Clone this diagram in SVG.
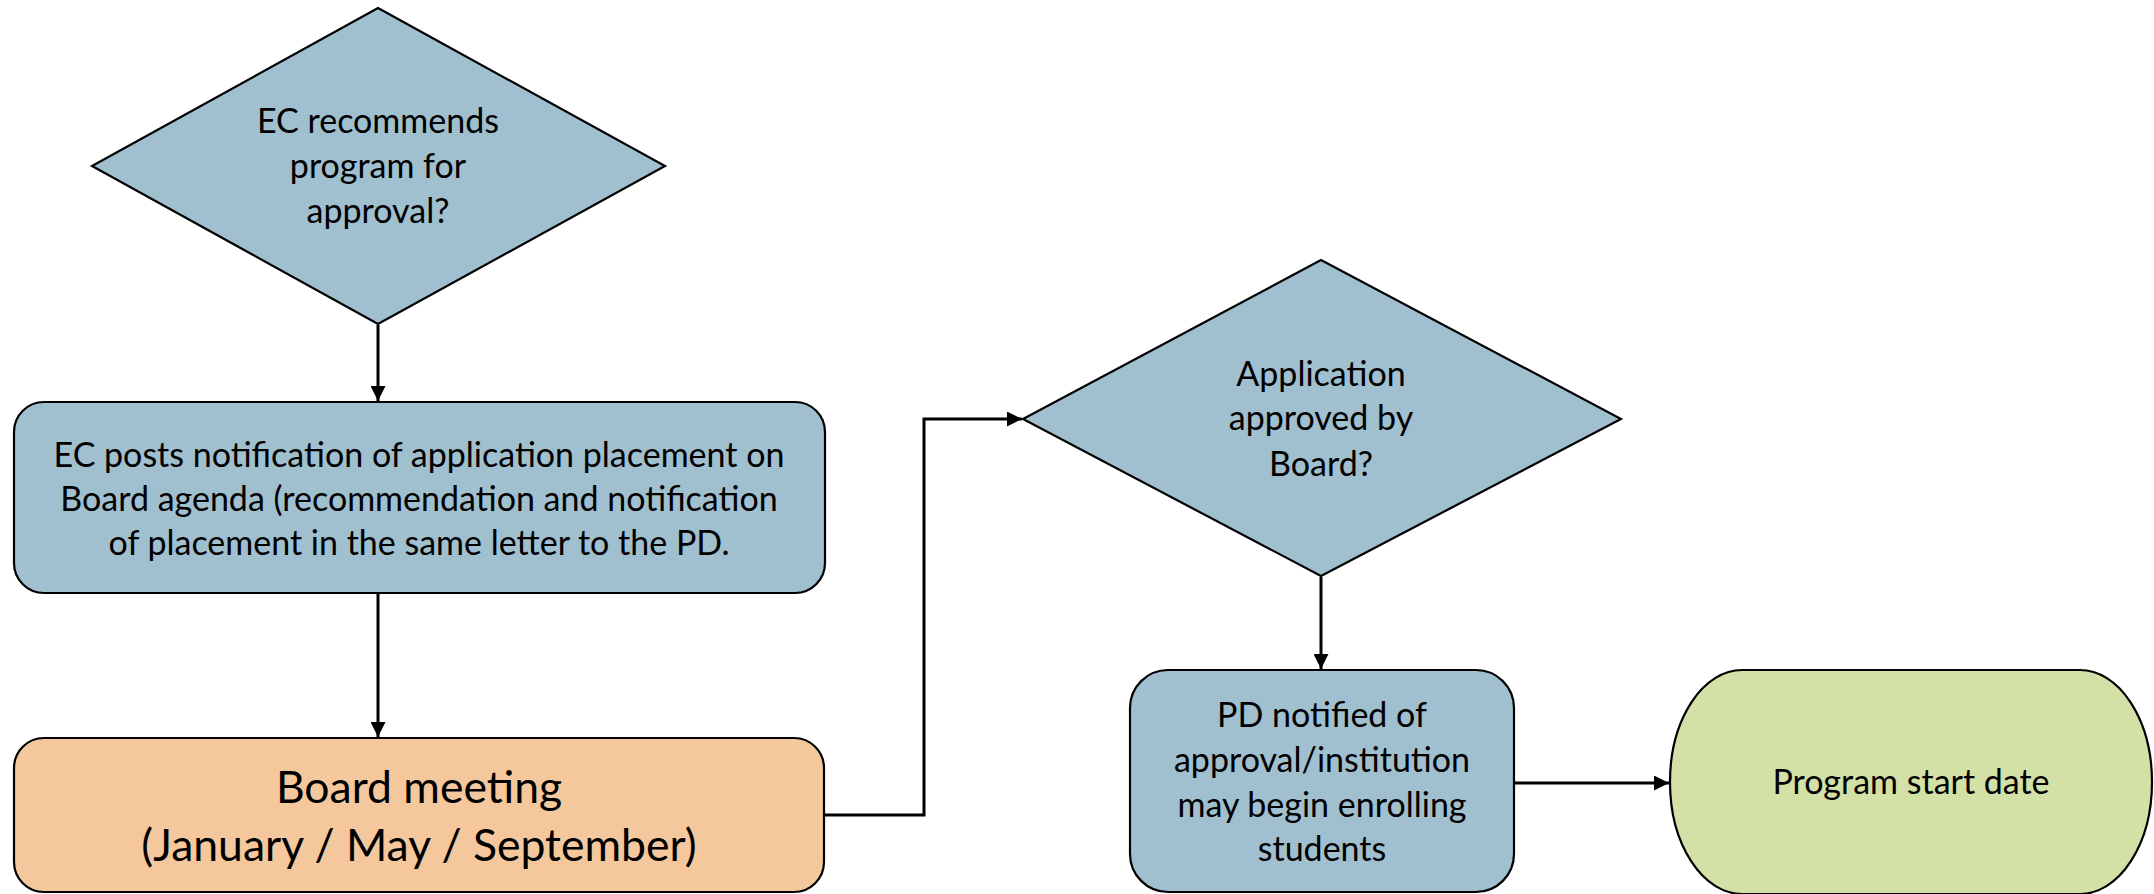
<svg xmlns="http://www.w3.org/2000/svg" width="2154" height="894" viewBox="0 0 2154 894">
<defs>
<style>
.shape{stroke:#000;stroke-width:2.2}
.blue{fill:#A0BFCF}
.orange{fill:#F4C89C}
.green{fill:#D3E0A6}
.t{font-family:Lato,"Liberation Sans",sans-serif;font-size:34px;fill:#000;text-anchor:middle}
.big{font-size:44.5px}
.conn{fill:none;stroke:#000;stroke-width:3}
</style>
<marker id="arr" viewBox="0 0 10 10" refX="10" refY="5" markerWidth="5" markerHeight="5" orient="auto" markerUnits="strokeWidth">
<path d="M0,0 L10,5 L0,10 Z" fill="#000"/>
</marker>
</defs>
<rect width="2154" height="894" fill="#fff"/>
<g id="connectors">
<line class="conn" x1="378" y1="325" x2="378" y2="401" marker-end="url(#arr)"/>
<line class="conn" x1="378" y1="593" x2="378" y2="737" marker-end="url(#arr)"/>
<polyline class="conn" points="824,815 924,815 924,419 1022,419" marker-end="url(#arr)"/>
<line class="conn" x1="1321" y1="577" x2="1321" y2="669" marker-end="url(#arr)"/>
<line class="conn" x1="1514" y1="783" x2="1669" y2="783" marker-end="url(#arr)"/>
</g>
<g id="decision1">
<polygon class="shape blue" points="378,8 665,166 378,324 92,166"/>
<text class="t" x="378" y="133">EC recommends</text>
<text class="t" x="378" y="178">program for</text>
<text class="t" x="378" y="223">approval?</text>
</g>
<g id="post-notification">
<rect class="shape blue" x="14" y="402" width="811" height="191" rx="30" ry="30"/>
<text class="t" x="419" y="467">EC posts notification of application placement on</text>
<text class="t" x="419" y="511">Board agenda (recommendation and notification</text>
<text class="t" x="419" y="555">of placement in the same letter to the PD.</text>
</g>
<g id="board-meeting">
<rect class="shape orange" x="14" y="738" width="810" height="154" rx="30" ry="30"/>
<text class="t big" x="419" y="803">Board meeting</text>
<text class="t big" x="419" y="861">(January / May / September)</text>
</g>
<g id="decision2">
<polygon class="shape blue" points="1321,260 1621,419 1321,576 1023,419"/>
<text class="t" x="1321" y="386">Application</text>
<text class="t" x="1321" y="430">approved by</text>
<text class="t" x="1321" y="476">Board?</text>
</g>
<g id="pd-notified">
<rect class="shape blue" x="1130" y="670" width="384" height="222" rx="38" ry="38"/>
<text class="t" x="1322" y="727">PD notified of</text>
<text class="t" x="1322" y="772">approval/institution</text>
<text class="t" x="1322" y="817">may begin enrolling</text>
<text class="t" x="1322" y="861">students</text>
</g>
<g id="program-start">
<rect class="shape green" x="1670" y="670" width="482" height="224" rx="72" ry="112"/>
<text class="t" x="1911" y="794">Program start date</text>
</g>
</svg>
